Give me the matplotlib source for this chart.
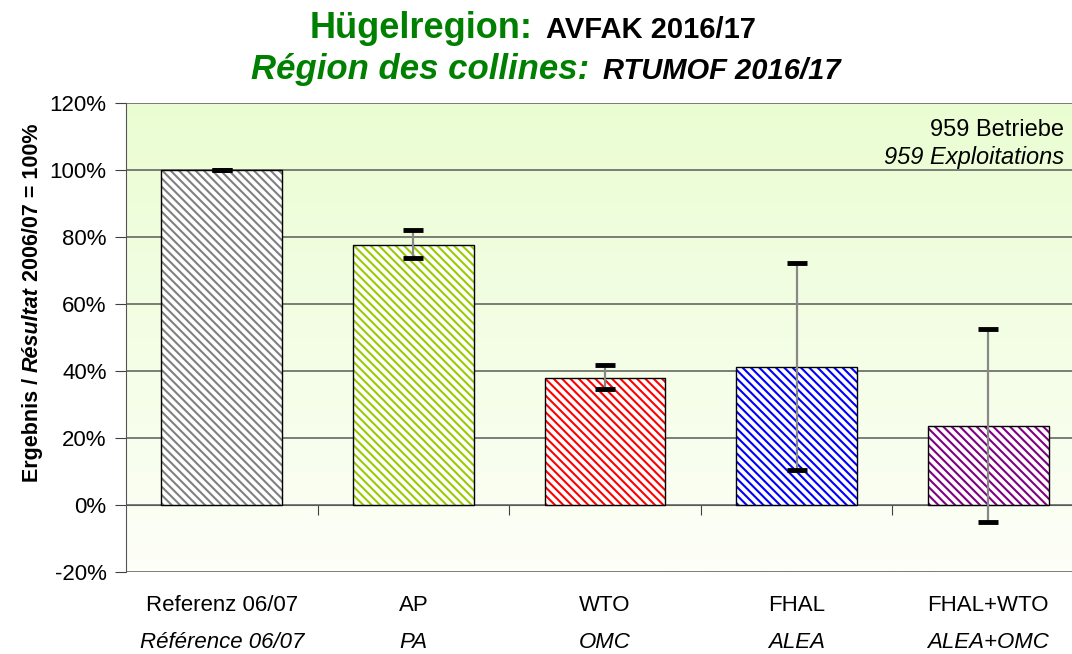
import numpy as np
import matplotlib.pyplot as plt
import matplotlib.transforms as mtransforms
from matplotlib.colors import LinearSegmentedColormap
from matplotlib.offsetbox import TextArea, HPacker, AnchoredOffsetbox

plt.rcParams['font.family'] = ['Liberation Sans', 'DejaVu Sans']
plt.rcParams['hatch.linewidth'] = 1.5

# data
labels_de = ['Referenz 06/07', 'AP', 'WTO', 'FHAL', 'FHAL+WTO']
labels_fr = ['Référence 06/07', 'PA', 'OMC', 'ALEA', 'ALEA+OMC']
values = [100.0, 77.6, 37.9, 41.2, 23.6]
err_high = [100.0, 82.1, 41.8, 72.2, 52.5]
err_low = [100.0, 73.7, 34.6, 10.4, -5.1]
colors = ['#808080', '#99cc00', '#ff0000', '#0000ff', '#800080']
yticks = [-20, 0, 20, 40, 60, 80, 100, 120]

green = '#008000'
W, H = 1072, 654

fig = plt.figure(figsize=(W / 100, H / 100), dpi=100)
ax = fig.add_axes([126 / W, 82 / H, 958 / W, 469 / H])

x = np.arange(len(values))
ax.set_xlim(-0.5, 4.5)
ax.set_ylim(-20, 120)

# background gradient (white at the bottom, light green at the top)
grad = np.linspace(0, 1, 256).reshape(-1, 1)
cmap = LinearSegmentedColormap.from_list('bg', ['#fdfff8', '#eafdd2'])
ax.imshow(grad, extent=[-0.5, 4.5, -20, 120], origin='lower', aspect='auto',
          cmap=cmap, zorder=0)

# grid
ax.set_yticks(yticks)
ax.set_yticklabels([f'{v}%' for v in yticks], fontsize=16)
ax.yaxis.grid(True, color='#5a5a5a', lw=1.1, zorder=0.5)
ax.set_axisbelow(True)

# bars: hatched fill then black outline
ax.bar(x, values, width=0.63, color='white', edgecolor=colors,
       hatch='\\\\\\\\', linewidth=0, zorder=2)
ax.bar(x, values, width=0.63, fill=False, edgecolor='black', linewidth=1, zorder=3)

# error bars: grey stem, thick black caps
ax.vlines(x, err_low, err_high, color='#888888', lw=1.6, zorder=4)
ax.plot(x, err_high, ls='none', marker='_', ms=15, mew=3.5, color='black', zorder=5)
ax.plot(x, err_low, ls='none', marker='_', ms=15, mew=3.5, color='black', zorder=5)

# axes styling
for s in ['top', 'right']:
    ax.spines[s].set_visible(False)
ax.spines['left'].set_color('#555555')
ax.spines['bottom'].set_position(('data', 0))
ax.spines['bottom'].set_color('#5a5a5a')
ax.set_xticks(x[:-1] + 0.5)
ax.set_xticklabels([])
ax.tick_params(axis='x', direction='out', length=7, color='#404040')
ax.tick_params(axis='y', direction='out', length=8, color='#404040', pad=6)

# category labels (two languages)
trans = mtransforms.blended_transform_factory(ax.transData, ax.transAxes)
for i in range(len(x)):
    ax.text(x[i], -0.072, labels_de[i], transform=trans, ha='center', va='center',
            fontsize=16)
    ax.text(x[i], -0.151, labels_fr[i], transform=trans, ha='center', va='center',
            fontsize=16, style='italic')

# number of farms
ax.text(0.979, 0.942, '959 Betriebe', transform=ax.transAxes, ha='right',
        va='center', fontsize=17)
ax.text(0.979, 0.883, '959 Exploitations', transform=ax.transAxes, ha='right',
        va='center', fontsize=17, style='italic')


# title lines with mixed styles
def title_line(parts, xc, yc):
    boxes = [TextArea(t, textprops=p) for t, p in parts]
    pack = HPacker(children=boxes, align='baseline', pad=0, sep=10)
    ab = AnchoredOffsetbox(loc='center', child=pack, frameon=False, pad=0,
                           borderpad=0, bbox_to_anchor=(xc, yc),
                           bbox_transform=fig.transFigure)
    fig.add_artist(ab)


title_line([('Hügelregion:', dict(color=green, fontsize=26, weight='bold')),
            ('AVFAK 2016/17', dict(color='black', fontsize=21, weight='bold'))],
           0.497, 0.957)
title_line([('Région des collines:', dict(color=green, fontsize=25, weight='bold',
                                          style='italic')),
            ('RTUMOF 2016/17', dict(color='black', fontsize=21, weight='bold',
                                    style='italic'))],
           0.509, 0.893)

# y label with an italic word, built piece by piece
ylab_parts = [('Ergebnis /', 'normal'), ('Résultat', 'italic'),
              ('2006/07 = 100%', 'normal')]
ylab_size = 15.5
ylab_texts = [fig.text(0, 0, t, rotation=90, rotation_mode='anchor', ha='left',
                       va='baseline', fontsize=ylab_size, weight='bold', style=st,
                       transform=mtransforms.IdentityTransform())
              for t, st in ylab_parts]
fig.canvas.draw()
r = fig.canvas.get_renderer()
lengths = [t.get_window_extent(r).height for t in ylab_texts]
gap = 0.278 * ylab_size * 100 / 72
total = sum(lengths) + gap * (len(lengths) - 1)
y0 = (H - 303) - total / 2
for t, L in zip(ylab_texts, lengths):
    t.set_position((38, y0))
    y0 += L + gap

fig.savefig('out.png', dpi=100)
